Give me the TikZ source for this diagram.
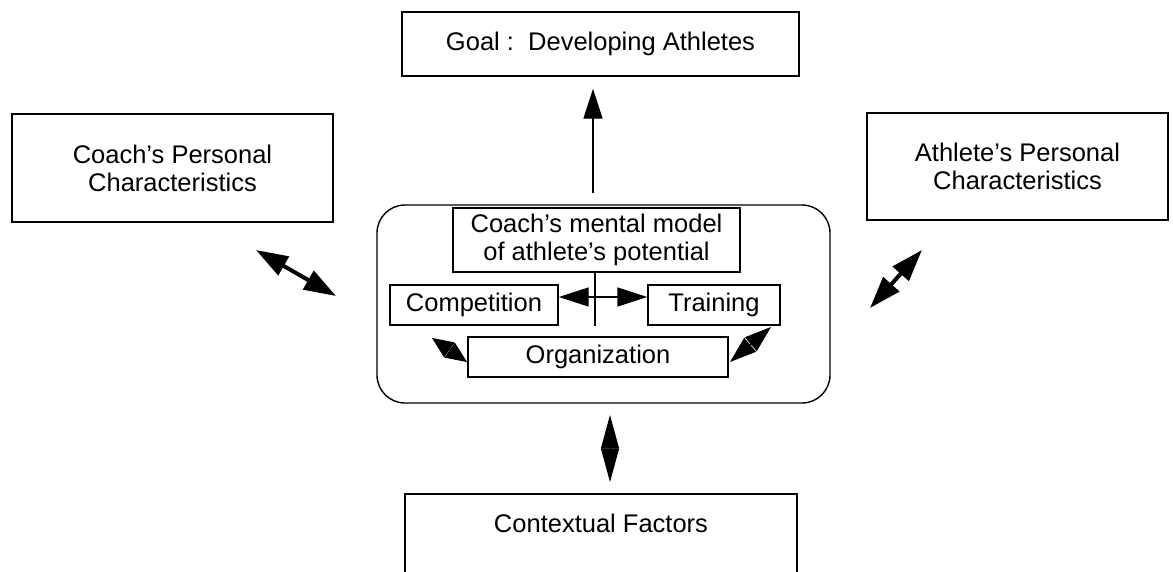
\documentclass[tikz,border=0pt]{standalone}
\usepackage{fontspec}
\setmainfont{Liberation Sans}
\usetikzlibrary{arrows.meta}

\begin{document}
\begin{tikzpicture}[x=1pt,y=-1pt,
  box/.style={draw,line width=1.4pt,inner sep=0pt,align=center,
    font=\fontsize{25.5}{28}\selectfont},
  thinarrow/.style={line width=1.4pt,-{Triangle[length=30pt,width=19pt]}},
  fatarrow/.style={line width=4pt,{Triangle[length=32pt,width=21pt]}-{Triangle[length=32pt,width=21pt]}},
  diamondarrow/.style={line width=1pt,{Triangle[length=#1,width=18pt]}-{Triangle[length=#1,width=18pt]}}]
\useasboundingbox (0,0) rectangle (1173,571);

\node [box,minimum width=397pt,minimum height=64pt] (goal) at (600.5,44) {Goal :\ \ Developing Athletes};
\node [box,minimum width=321pt,minimum height=108pt] (coach) at (172.5,168) {Coach's Personal\\Characteristics};
\node [box,minimum width=301pt,minimum height=107pt] (athlete) at (1017.5,166.5) {Athlete's Personal\\Characteristics};
\node [draw,line width=1.4pt,rounded corners=28pt,minimum width=453pt,minimum height=198pt] (core) at (603.5,304) {};
\node [box,minimum width=287pt,minimum height=64pt] (model) at (596.5,240) {Coach's mental model\\of athlete's potential};
\node [box,minimum width=168pt,minimum height=40pt] (comp) at (474,305) {Competition};
\node [box,minimum width=132pt,minimum height=40pt] (train) at (714,305) {Training};
\node [box,minimum width=260pt,minimum height=40pt] (org) at (598,357) {Organization};
\node [box,minimum width=392pt,text height=38pt,text depth=60pt] (context) at (601,543) {Contextual Factors};

\coordinate (goalfoot) at (593,193);
\coordinate (hub) at (595,297);
\coordinate (coachend) at (256,250);
\coordinate (coreleft) at (336,296);
\coordinate (coreright) at (870,308);
\coordinate (athleteend) at (922,250);
\coordinate (corefoot) at (610,415);
\coordinate (contexttop) at (610,482);
\coordinate (orgstar) at (432,338);
\coordinate (orgleft) at (467,362);
\coordinate (trainfoot) at (771,327);
\coordinate (orgright) at (730,362);

\draw [thinarrow,shorten >=12pt] (goalfoot) -- (goalfoot |- goal.south);
\draw [line width=1.4pt] (hub |- model.south) -- (hub |- comp.south);
\draw [thinarrow] (hub) -- (comp.east |- hub);
\draw [thinarrow] (hub) -- (train.west |- hub);
\draw [fatarrow] (coachend) -- (coreleft);
\draw [fatarrow] (coreright) -- (athleteend);
\draw [diamondarrow=33.5pt] (corefoot) -- (contexttop);
\draw [diamondarrow=21pt] (orgstar) -- (orgleft);
\draw [diamondarrow=26.5pt] (trainfoot) -- (orgright);
\end{tikzpicture}
\end{document}
